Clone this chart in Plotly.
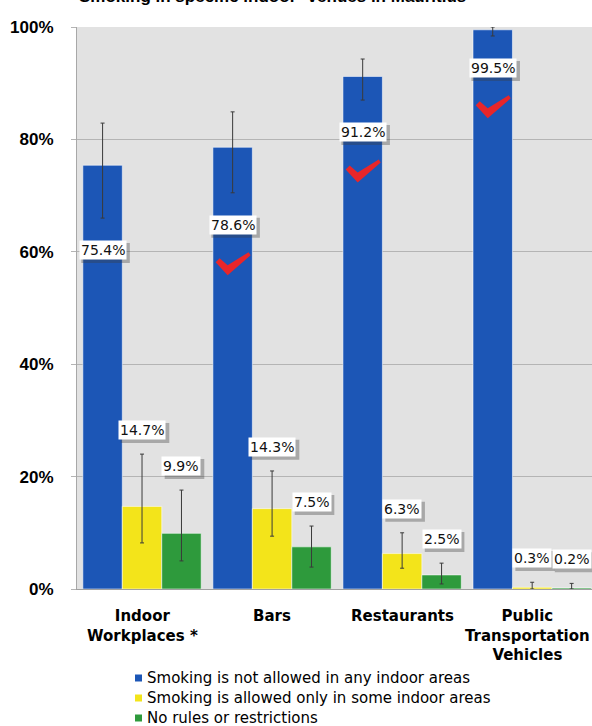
import plotly.graph_objects as go

# Venue categories and survey shares (%) with 95% confidence bounds
categories = ["Indoor<br>Workplaces *", "Bars", "Restaurants",
              "Public<br>Transportation<br>Vehicles"]
series_names = ["Smoking is not allowed in any indoor areas",
                "Smoking is allowed only in some indoor areas",
                "No rules or restrictions"]

not_allowed = [75.4, 78.6, 91.2, 99.5]
not_allowed_lo = [66.0, 70.5, 87.0, 98.4]
not_allowed_hi = [82.9, 84.9, 94.3, 100.0]

some_areas = [14.7, 14.3, 6.3, 0.3]
some_areas_lo = [8.2, 9.4, 3.7, 0.0]
some_areas_hi = [24.0, 21.0, 10.0, 1.2]

no_rules = [9.9, 7.5, 2.5, 0.2]
no_rules_lo = [5.0, 3.9, 0.9, 0.0]
no_rules_hi = [17.6, 11.2, 4.6, 1.0]

# venues covered by a complete smoke-free law (ticked)
smoke_free_law = [False, True, True, True]

y_ticks = [0, 20, 40, 60, 80, 100]
y_tick_labels = ["0%", "20%", "40%", "60%", "80%", "100%"]

title_text = "Smoking in specific indoor* venues in Mauritius"

# ---- page geometry ----
W, H = 592, 726
M_L, M_R, M_T, M_B = 77, 0, 27, 137
PLOT_W = W - M_L - M_R
PLOT_H = H - M_T - M_B
BARGAP = 0.09
BAR_W = (1 - BARGAP) / 3

colors = ["#1c56b6", "#f3e41a", "#2e9a3c"]


def px_x(px):
    return (px - M_L) / PLOT_W


def px_y(py):
    return (H - M_B - py) / PLOT_H


series = [
    (not_allowed, not_allowed_lo, not_allowed_hi),
    (some_areas, some_areas_lo, some_areas_hi),
    (no_rules, no_rules_lo, no_rules_hi),
]

fig = go.Figure()
xs = list(range(len(categories)))
for k, (vals, lo, hi) in enumerate(series):
    fig.add_trace(go.Bar(
        x=xs, y=vals, name=series_names[k], offsetgroup=str(k),
        marker=dict(color=colors[k],
                    line=dict(color="rgba(255,255,255,0.55)", width=1)),
        error_y=dict(type="data", symmetric=False,
                     array=[h - v for h, v in zip(hi, vals)],
                     arrayminus=[v - l for v, l in zip(vals, lo)],
                     color="#3a3a3a", thickness=1, width=2),
        showlegend=False, hoverinfo="skip",
    ))

annotations = []
shapes = []
label_font = dict(family="DejaVu Sans", size=14, color="#111111")

for k, (vals, lo, hi) in enumerate(series):
    for i, v in enumerate(vals):
        xc = i + (k - 1) * BAR_W
        ly = lo[i] - 5.7 if k == 0 else hi[i] + 4.3
        txt = f"{v:.1f}%"
        half_w = (8.9 * len(txt) + 4) / 2
        # drop shadow behind the value box
        shapes.append(dict(
            type="rect", xref="x", yref="y",
            xsizemode="pixel", ysizemode="pixel", xanchor=xc, yanchor=ly,
            x0=-half_w + 3, x1=half_w + 3, y0=-13, y1=7,
            fillcolor="rgba(60,60,60,0.35)", line=dict(width=0), layer="above",
        ))
        annotations.append(dict(
            x=xc, y=ly, xref="x", yref="y", text=txt, showarrow=False,
            font=label_font, bgcolor="white", borderpad=1,
        ))
        if k == 0 and smoke_free_law[i]:
            shapes.append(dict(
                type="path", xref="x", yref="y",
                xsizemode="pixel", ysizemode="pixel",
                xanchor=xc, yanchor=ly - 7,
                path="M -17 2 L -13 6 L -5 -1 L 16 12 L 18 9 L -5 -11 Z",
                fillcolor="#e8262a", line=dict(width=0),
            ))

# category labels under each group; the last one is nudged left so it
# stays inside the right edge of the page
for i, cat in enumerate(categories):
    annotations.append(dict(
        x=i, y=px_y(605), xref="x", yref="paper", yanchor="top",
        text=f"<b>{cat}</b>", showarrow=False,
        xshift=-5 if i == len(categories) - 1 else 0,
        font=dict(family="DejaVu Sans", size=15, color="black"),
    ))

# title, partially above the top edge of the page
annotations.append(dict(
    x=px_x(272), y=px_y(8), xref="paper", yref="paper", yanchor="bottom",
    text=f"<b>{title_text}</b>", showarrow=False,
    font=dict(family="Liberation Sans", size=17, color="black"),
))

# legend rows
for k, name in enumerate(series_names):
    cy = 678 + 20 * k
    shapes.append(dict(
        type="rect", xref="paper", yref="paper",
        x0=px_x(135), x1=px_x(142), y0=px_y(cy + 3.5), y1=px_y(cy - 3.5),
        fillcolor=colors[k], line=dict(width=0),
    ))
    annotations.append(dict(
        x=px_x(145), y=px_y(cy), xref="paper", yref="paper",
        xanchor="left", yanchor="middle", text=name, showarrow=False,
        font=dict(family="DejaVu Sans", size=15, color="black"),
    ))

fig.update_layout(
    width=W, height=H,
    margin=dict(l=M_L, r=M_R, t=M_T, b=M_B, pad=0),
    paper_bgcolor="white", plot_bgcolor="#e2e2e2",
    barmode="group", bargap=BARGAP, bargroupgap=0,
    annotations=annotations, shapes=shapes,
    xaxis=dict(range=[-0.5, 3.46], tickvals=xs, showticklabels=False,
               showgrid=False, zeroline=False, ticks="",
               showline=True, linecolor="#a0a0a0", linewidth=1),
    yaxis=dict(range=[0, 100], tickvals=y_ticks, ticktext=y_tick_labels,
               showgrid=True, gridcolor="#b4b4b4", gridwidth=1,
               zeroline=False, ticks="outside", ticklen=5, tickcolor="#b4b4b4",
               showline=True, linecolor="#a8a8a8", linewidth=1,
               ticklabelstandoff=14, automargin=False,
               tickfont=dict(family="Liberation Sans", size=17, color="black",
                             weight="bold")),
)

fig.write_html("out.html")
